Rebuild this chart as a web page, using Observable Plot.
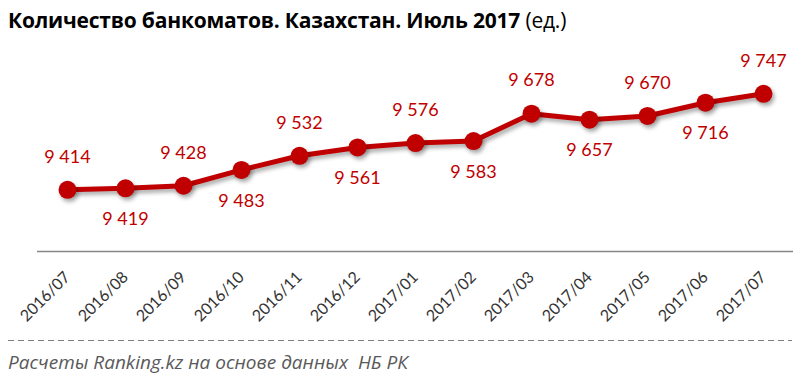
<!DOCTYPE html>
<html><head><meta charset="utf-8">
<script src="https://cdn.jsdelivr.net/npm/d3@7"></script>
<script src="https://cdn.jsdelivr.net/npm/@observablehq/plot@0.6"></script>
<style>
body{margin:0;background:#fff;width:800px;height:389px;overflow:hidden;font-family:Lato,sans-serif}
#title{height:40px;box-sizing:border-box;padding:9px 0 0 8px;font-family:"Open Sans",sans-serif;font-size:21px;font-weight:bold;color:#000;white-space:nowrap;line-height:22px;letter-spacing:-0.2px}
#title span{font-weight:normal}
#chart{height:300px}
#dash{margin:0 8px;height:1px;background:repeating-linear-gradient(to right,#7f7f7f 0 6px,transparent 6px 10px)}
#footer{padding:11px 0 0 8px;line-height:20px;font-family:"Open Sans",sans-serif;font-size:19px;font-style:italic;color:#595959;white-space:pre}
</style>
</head><body>
<div id="title">Количество банкоматов. Казахстан. Июль 2017 <span>(ед.)</span></div>
<div id="chart"></div>
<div id="dash"></div>
<div id="footer">Расчеты Ranking.kz на основе данных  НБ РК</div>
<script>
const months = ["2016/07","2016/08","2016/09","2016/10","2016/11","2016/12","2017/01","2017/02","2017/03","2017/04","2017/05","2017/06","2017/07"];
const values = [9414,9419,9428,9483,9532,9561,9576,9583,9678,9657,9670,9716,9747];
const yDomain = [9200,9800];

const data = months.map((m,i)=>({month:m, value:values[i], i}));
const fmt = d3.formatLocale({decimal:",", thousands:"\u00a0", grouping:[3], currency:["",""]}).format(",");
const red = "#C00000";

const chart = Plot.plot({
  width:800, height:300,
  marginLeft:37, marginRight:7, marginTop:38, marginBottom:89,
  style:{fontFamily:"Lato, sans-serif", color:"#333", background:"#fff"},
  x:{type:"point", domain:months, padding:0.5},
  y:{domain:yDomain, axis:null},
  marks:[
    Plot.ruleY([yDomain[0]],{stroke:"#868686", strokeWidth:1.4}),
    Plot.axisX({tickRotate:-45, tickSize:0, tickPadding:23, fontSize:16, label:null}),
    Plot.line(data,{x:"month", y:"value", stroke:red, strokeWidth:5, className:"shadow"}),
    Plot.dot(data,{x:"month", y:"value", r:9, fill:red, stroke:"none", className:"shadow"}),
    Plot.text(data.filter(d=>d.i%2===0),{x:"month", y:"value", text:d=>fmt(d.value), dy:-33, fill:red, fontSize:18}),
    Plot.text(data.filter(d=>d.i%2===1),{x:"month", y:"value", text:d=>fmt(d.value), dy:31, fill:red, fontSize:18})
  ]
});
chart.querySelectorAll(".shadow").forEach(g=>g.style.filter="drop-shadow(2px 3px 2px rgba(0,0,0,0.35))");
document.getElementById("chart").append(chart);
</script>
</body></html>
